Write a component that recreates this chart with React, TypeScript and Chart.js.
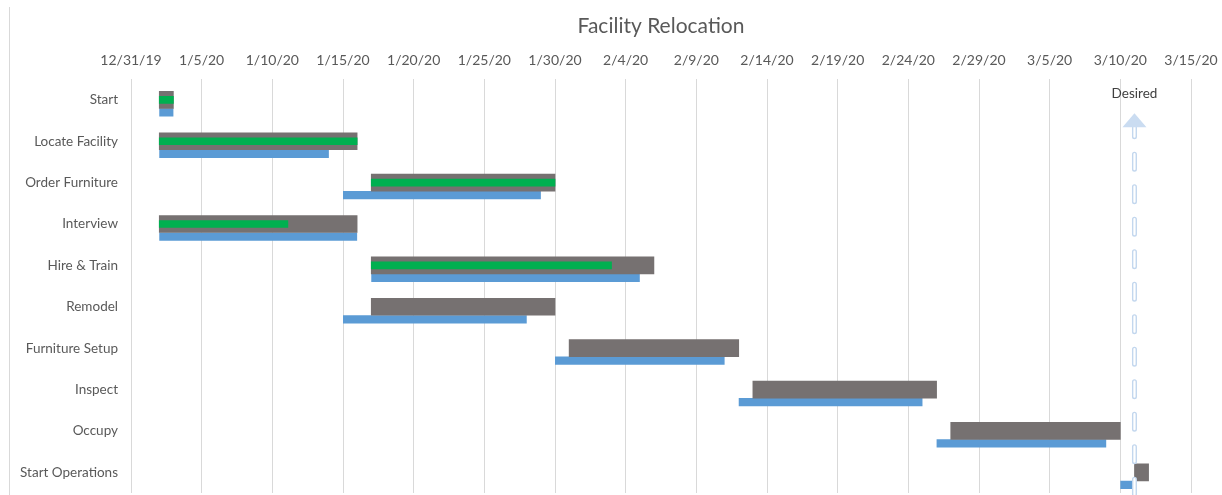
import React, { useEffect, useRef } from 'react';
import { Chart, registerables } from 'chart.js';

Chart.register(...registerables);

// ---------- Data ----------
const chartTitle = 'Facility Relocation';
const tasks = [
  'Start',
  'Locate Facility',
  'Order Furniture',
  'Interview',
  'Hire & Train',
  'Remodel',
  'Furniture Setup',
  'Inspect',
  'Occupy',
  'Start Operations',
];
// Planned (grey bars)
const plannedStart = ['1/2/20', '1/2/20', '1/17/20', '1/2/20', '1/17/20', '1/17/20', '1/31/20', '2/13/20', '2/27/20', '3/11/20'];
const plannedEnd = ['1/3/20', '1/16/20', '1/30/20', '1/16/20', '2/6/20', '1/30/20', '2/12/20', '2/26/20', '3/10/20', '3/12/20'];
// Baseline (blue bars)
const baselineStart = ['1/2/20', '1/2/20', '1/15/20', '1/2/20', '1/17/20', '1/15/20', '1/30/20', '2/12/20', '2/26/20', '3/10/20'];
const baselineEnd = ['1/3/20', '1/14/20', '1/29/20', '1/16/20', '2/5/20', '1/28/20', '2/11/20', '2/25/20', '3/9/20', '3/11/20'];
// Progress (green bars), % complete of planned duration
const percentComplete = [100, 100, 100, 65, 85, 0, 0, 0, 0, 0];
// Axis
const axisStart = '12/31/19';
const axisEnd = '3/15/20';
const tickStepDays = 5;
// Desired marker
const desiredDate = '3/11/20';
const desiredLabel = 'Desired';

// ---------- Helpers ----------
const DAY = 86400000;
const parseDate = (s: string) => {
  const [m, d, y] = s.split('/').map(Number);
  return Date.UTC(2000 + y, m - 1, d);
};
const originMs = parseDate(axisStart);
const toDay = (s: string) => Math.round((parseDate(s) - originMs) / DAY);
const formatDay = (v: number) => {
  const dt = new Date(originMs + Math.round(v) * DAY);
  return `${dt.getUTCMonth() + 1}/${dt.getUTCDate()}/${String(dt.getUTCFullYear()).slice(2)}`;
};

const FONT = 'Lato, "Open Sans", sans-serif';
const TEXT = '#595959';

const desiredPlugin = {
  id: 'desiredMarker',
  afterDatasetsDraw(chart: any) {
    const { ctx, chartArea, scales } = chart;
    const px = scales.x.getPixelForValue(toDay(desiredDate));
    const top = chartArea.top;
    const bottom = chart.height;
    ctx.save();
    // dashed hollow line
    ctx.beginPath();
    ctx.moveTo(px, top + 42.5);
    ctx.lineTo(px, bottom);
    ctx.setLineDash([15, 17.5]);
    ctx.lineCap = 'round';
    ctx.lineWidth = 5;
    ctx.strokeStyle = '#c3d7ee';
    ctx.stroke();
    ctx.lineWidth = 2.2;
    ctx.strokeStyle = '#ffffff';
    ctx.stroke();
    ctx.setLineDash([]);
    // arrow head
    ctx.beginPath();
    ctx.moveTo(px, top + 34);
    ctx.lineTo(px - 12, top + 48);
    ctx.lineTo(px + 12, top + 48);
    ctx.closePath();
    ctx.fillStyle = '#cadcf1';
    ctx.fill();
    // label
    ctx.font = `13.5px ${FONT}`;
    ctx.fillStyle = '#404040';
    ctx.textAlign = 'center';
    ctx.textBaseline = 'middle';
    ctx.fillText(desiredLabel, px, top + 14);
    ctx.restore();
  },
};

export default function App() {
  const canvasRef = useRef<HTMLCanvasElement | null>(null);

  useEffect(() => {
    if (!canvasRef.current) return;
    const planned = tasks.map((_, i) => [toDay(plannedStart[i]), toDay(plannedEnd[i])]);
    const baseline = tasks.map((_, i) => [toDay(baselineStart[i]), toDay(baselineEnd[i])]);
    const progress = tasks.map((_, i) => {
      const s = toDay(plannedStart[i]);
      const e = toDay(plannedEnd[i]);
      return percentComplete[i] > 0 ? [s, s + ((e - s) * percentComplete[i]) / 100] : null;
    });

    const chart = new Chart(canvasRef.current, {
      type: 'bar',
      data: {
        labels: tasks,
        datasets: [
          {
            label: 'Progress',
            data: progress as any,
            backgroundColor: '#00b050',
            grouped: false,
            barThickness: 7,
          },
          {
            label: 'Planned',
            data: planned as any,
            backgroundColor: '#767171',
            grouped: false,
            barThickness: 17,
          },
          {
            label: 'spacer',
            data: tasks.map(() => null) as any,
            stack: 'spacer',
            categoryPercentage: 1.2077,
            barPercentage: 0.33,
            backgroundColor: 'rgba(0,0,0,0)',
          },
          {
            label: 'Baseline',
            data: baseline as any,
            stack: 'baseline',
            categoryPercentage: 1.2077,
            barPercentage: 0.33,
            backgroundColor: '#5b9bd5',
          },
        ],
      },
      options: {
        indexAxis: 'y',
        animation: false,
        responsive: false,
        maintainAspectRatio: false,
        layout: { padding: { left: 0, right: 31, top: 0, bottom: 2 } },
        plugins: {
          legend: { display: false },
          tooltip: { enabled: false },
          title: {
            display: true,
            text: chartTitle,
            fullSize: false,
            color: TEXT,
            font: { family: FONT, size: 21, weight: 'normal' },
            padding: { top: 7, bottom: 8 },
          },
        },
        scales: {
          x: {
            type: 'linear',
            position: 'top',
            min: toDay(axisStart),
            max: toDay(axisEnd),
            stacked: false,
            afterFit: (scale: any) => {
              scale.height = 32;
              scale.paddingLeft = 0;
              scale.paddingRight = 0;
            },
            ticks: {
              stepSize: tickStepDays,
              color: TEXT,
              padding: 10,
              font: { family: FONT, size: 14 },
              callback: (v: any) => formatDay(Number(v)),
              maxRotation: 0,
              autoSkip: false,
            },
            grid: { color: '#d9d9d9', drawTicks: false, lineWidth: 1 },
            border: { display: false },
          },
          y: {
            type: 'category',
            afterFit: (scale: any) => {
              scale.width = 121;
              scale.paddingTop = 0;
              scale.paddingBottom = 0;
            },
            ticks: {
              color: TEXT,
              padding: 13,
              font: { family: FONT, size: 13.5 },
            },
            grid: { display: false, drawTicks: false },
            border: { display: false },
          },
        },
      },
      plugins: [desiredPlugin],
    });
    return () => chart.destroy();
  }, []);

  return (
    <div
      style={{
        position: 'fixed',
        left: 9,
        top: 7,
        width: 1212,
        height: 488,
        borderLeft: '1px solid #d9d9d9',
        background: '#fff',
      }}
    >
      <canvas ref={canvasRef} width={1212} height={488} style={{ display: 'block', width: 1212, height: 488 }} />
    </div>
  );
}
